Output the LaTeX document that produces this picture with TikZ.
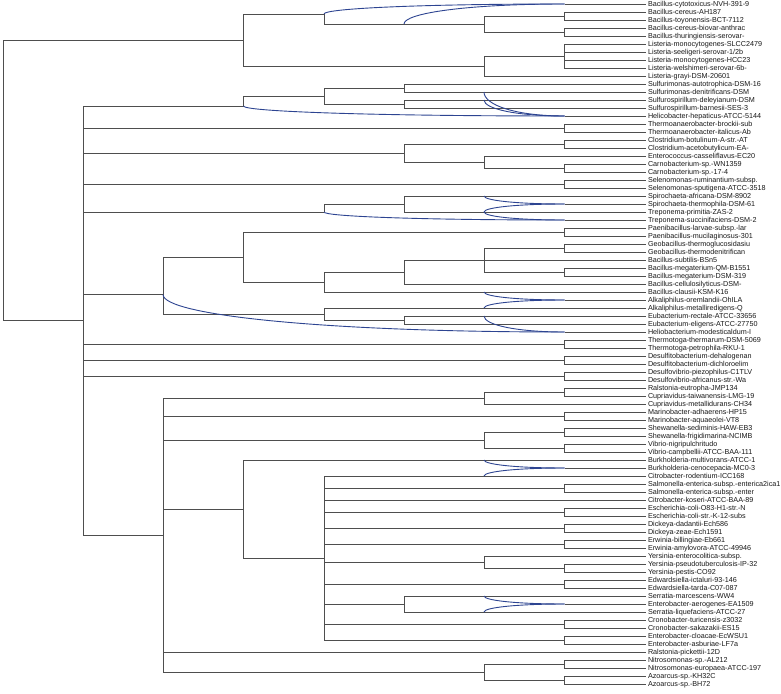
\documentclass[tikz,border=0pt]{standalone}
\usepackage{fontspec}
\setmainfont{Liberation Sans}
\usetikzlibrary{calc}
\definecolor{treec}{RGB}{78,78,78}
\definecolor{retc}{RGB}{45,68,145}
\definecolor{labc}{RGB}{25,25,25}
\newcommand\leafnode[2]{\coordinate (t#1) at (646,{8*#1-4}); \node[lab] (l#1) at (t#1) {#2};}
\newcommand\reti[2]{\draw[retic] (#1) .. controls ($(#1)!0.55!(#1 |- #2)$) and ($(#2 -| #1)!0.4!(#2)$) .. (#2);}
\begin{document}
\begin{tikzpicture}[x=1pt,y=-1pt,
  edge/.style={draw=treec,line width=0.9pt},
  retic/.style={draw=retc,line width=0.9pt},
  lab/.style={anchor=base west,inner sep=0pt,xshift=1.8pt,yshift=-2.9pt,text=labc,font=\fontsize{7.2}{8}\selectfont}]
\path[use as bounding box,fill=white] (0,0) rectangle (781,693);

% leaves and labels
\leafnode{1}{Bacillus-cytotoxicus-NVH-391-9}
\leafnode{2}{Bacillus-cereus-AH187}
\leafnode{3}{Bacillus-toyonensis-BCT-7112}
\leafnode{4}{Bacillus-cereus-biovar-anthrac}
\leafnode{5}{Bacillus-thuringiensis-serovar-}
\leafnode{6}{Listeria-monocytogenes-SLCC2479}
\leafnode{7}{Listeria-seeligeri-serovar-1/2b}
\leafnode{8}{Listeria-monocytogenes-HCC23}
\leafnode{9}{Listeria-welshimeri-serovar-6b-}
\leafnode{10}{Listeria-grayi-DSM-20601}
\leafnode{11}{Sulfurimonas-autotrophica-DSM-16}
\leafnode{12}{Sulfurimonas-denitrificans-DSM}
\leafnode{13}{Sulfurospirillum-deleyianum-DSM}
\leafnode{14}{Sulfurospirillum-barnesii-SES-3}
\leafnode{15}{Helicobacter-hepaticus-ATCC-5144}
\leafnode{16}{Thermoanaerobacter-brockii-sub}
\leafnode{17}{Thermoanaerobacter-italicus-Ab}
\leafnode{18}{Clostridium-botulinum-A-str.-AT}
\leafnode{19}{Clostridium-acetobutylicum-EA-}
\leafnode{20}{Enterococcus-casseliflavus-EC20}
\leafnode{21}{Carnobacterium-sp.-WN1359}
\leafnode{22}{Carnobacterium-sp.-17-4}
\leafnode{23}{Selenomonas-ruminantium-subsp.}
\leafnode{24}{Selenomonas-sputigena-ATCC-3518}
\leafnode{25}{Spirochaeta-africana-DSM-8902}
\leafnode{26}{Spirochaeta-thermophila-DSM-61}
\leafnode{27}{Treponema-primitia-ZAS-2}
\leafnode{28}{Treponema-succinifaciens-DSM-2}
\leafnode{29}{Paenibacillus-larvae-subsp.-lar}
\leafnode{30}{Paenibacillus-mucilaginosus-301}
\leafnode{31}{Geobacillus-thermoglucosidasiu}
\leafnode{32}{Geobacillus-thermodenitrifican}
\leafnode{33}{Bacillus-subtilis-BSn5}
\leafnode{34}{Bacillus-megaterium-QM-B1551}
\leafnode{35}{Bacillus-megaterium-DSM-319}
\leafnode{36}{Bacillus-cellulosilyticus-DSM-}
\leafnode{37}{Bacillus-clausii-KSM-K16}
\leafnode{38}{Alkaliphilus-oremlandii-OhILA}
\leafnode{39}{Alkaliphilus-metalliredigens-Q}
\leafnode{40}{Eubacterium-rectale-ATCC-33656}
\leafnode{41}{Eubacterium-eligens-ATCC-27750}
\leafnode{42}{Heliobacterium-modesticaldum-I}
\leafnode{43}{Thermotoga-thermarum-DSM-5069}
\leafnode{44}{Thermotoga-petrophila-RKU-1}
\leafnode{45}{Desulfitobacterium-dehalogenan}
\leafnode{46}{Desulfitobacterium-dichloroelim}
\leafnode{47}{Desulfovibrio-piezophilus-C1TLV}
\leafnode{48}{Desulfovibrio-africanus-str.-Wa}
\leafnode{49}{Ralstonia-eutropha-JMP134}
\leafnode{50}{Cupriavidus-taiwanensis-LMG-19}
\leafnode{51}{Cupriavidus-metallidurans-CH34}
\leafnode{52}{Marinobacter-adhaerens-HP15}
\leafnode{53}{Marinobacter-aquaeolei-VT8}
\leafnode{54}{Shewanella-sediminis-HAW-EB3}
\leafnode{55}{Shewanella-frigidimarina-NCIMB}
\leafnode{56}{Vibrio-nigripulchritudo}
\leafnode{57}{Vibrio-campbellii-ATCC-BAA-111}
\leafnode{58}{Burkholderia-multivorans-ATCC-1}
\leafnode{59}{Burkholderia-cenocepacia-MC0-3}
\leafnode{60}{Citrobacter-rodentium-ICC168}
\leafnode{61}{Salmonella-enterica-subsp.-enterica2ica1}
\leafnode{62}{Salmonella-enterica-subsp.-enter}
\leafnode{63}{Citrobacter-koseri-ATCC-BAA-89}
\leafnode{64}{Escherichia-coli-O83-H1-str.-N}
\leafnode{65}{Escherichia-coli-str.-K-12-subs}
\leafnode{66}{Dickeya-dadantii-Ech586}
\leafnode{67}{Dickeya-zeae-Ech1591}
\leafnode{68}{Erwinia-billingiae-Eb661}
\leafnode{69}{Erwinia-amylovora-ATCC-49946}
\leafnode{70}{Yersinia-enterocolitica-subsp.}
\leafnode{71}{Yersinia-pseudotuberculosis-IP-32}
\leafnode{72}{Yersinia-pestis-CO92}
\leafnode{73}{Edwardsiella-ictaluri-93-146}
\leafnode{74}{Edwardsiella-tarda-C07-087}
\leafnode{75}{Serratia-marcescens-WW4}
\leafnode{76}{Enterobacter-aerogenes-EA1509}
\leafnode{77}{Serratia-liquefaciens-ATCC-27}
\leafnode{78}{Cronobacter-turicensis-z3032}
\leafnode{79}{Cronobacter-sakazakii-ES15}
\leafnode{80}{Enterobacter-cloacae-EcWSU1}
\leafnode{81}{Enterobacter-asburiae-LF7a}
\leafnode{82}{Ralstonia-pickettii-12D}
\leafnode{83}{Nitrosomonas-sp.-AL212}
\leafnode{84}{Nitrosomonas-europaea-ATCC-197}
\leafnode{85}{Azoarcus-sp.-KH32C}
\leafnode{86}{Azoarcus-sp.-BH72}

% internal nodes
\coordinate (R) at (3,180.25);
\coordinate (T) at (243.5,40);
\coordinate (A) at (324,14);
\coordinate (N3) at (484,24);
\coordinate (C23) at (564.5,16);
\coordinate (C45) at (564.5,32);
\coordinate (B) at (484,66);
\coordinate (C69) at (564.5,56);
\coordinate (L1) at (83,320.5);
\coordinate (Ha) at (243.5,106);
\coordinate (Hb) at (324,96);
\coordinate (H1) at (404,88);
\coordinate (H2) at (404,104);
\coordinate (C1617) at (564.5,128);
\coordinate (Cl) at (404,153);
\coordinate (C1819) at (564.5,144);
\coordinate (Ca) at (484,162);
\coordinate (C2122) at (564.5,168);
\coordinate (C2324) at (564.5,184);
\coordinate (Sp) at (324,212);
\coordinate (Sp5) at (404,204);
\coordinate (F2) at (163,294.5);
\coordinate (F3) at (243.5,257);
\coordinate (C2930) at (564.5,232);
\coordinate (F4) at (324,282);
\coordinate (F5) at (404,272);
\coordinate (F6) at (484,260);
\coordinate (C3132) at (564.5,248);
\coordinate (C3435) at (564.5,272);
\coordinate (F4b) at (324,314);
\coordinate (F5b) at (404,320);
\coordinate (C4344) at (564.5,344);
\coordinate (C4546) at (564.5,360);
\coordinate (C4748) at (564.5,376);
\coordinate (P2) at (163,535);
\coordinate (Pa) at (484,398);
\coordinate (C4950) at (564.5,392);
\coordinate (C5253) at (564.5,416);
\coordinate (Pb) at (484,440);
\coordinate (C5455) at (564.5,432);
\coordinate (C5657) at (564.5,448);
\coordinate (P3) at (243.5,509);
\coordinate (P4) at (324,558);
\coordinate (C6162) at (564.5,488);
\coordinate (C6465) at (564.5,512);
\coordinate (C6667) at (564.5,528);
\coordinate (C6869) at (564.5,544);
\coordinate (Py) at (484,562);
\coordinate (C7172) at (564.5,568);
\coordinate (C7374) at (564.5,584);
\coordinate (Ps) at (404,604);
\coordinate (C7879) at (564.5,624);
\coordinate (C8081) at (564.5,640);
\coordinate (Pn) at (484,672);
\coordinate (C8384) at (564.5,664);
\coordinate (C8586) at (564.5,680);

% reticulation nodes and sources
\coordinate (r1) at (564.5,4);
\coordinate (r15) at (564.5,116);
\coordinate (r26) at (564.5,204);
\coordinate (r28) at (564.5,220);
\coordinate (r38) at (564.5,300);
\coordinate (r42) at (564.5,332);
\coordinate (r59) at (564.5,468);
\coordinate (r76) at (564.5,604);
\coordinate (s1) at (404,24);
\coordinate (s12) at (484,92);
\coordinate (s13) at (484,100);
\coordinate (s25) at (484,196);
\coordinate (s27) at (484,212);
\coordinate (s37) at (484,292);
\coordinate (s39) at (484,308);
\coordinate (s40) at (484,316);
\coordinate (s58) at (484,460);
\coordinate (s60) at (484,476);
\coordinate (s75) at (484,596);
\coordinate (s77) at (484,612);

% tree edges
\draw[edge] (R) |- (T) (R) |- (L1);
\draw[edge] (T) |- (A) (T) |- (B);
\draw[edge] (A) |- (N3);
\draw[edge] (N3) |- (C23) (N3) |- (C45);
\draw[edge] (C23) |- (t2) (C23) |- (t3) (C45) |- (t4) (C45) |- (t5);
\draw[edge] (B) |- (C69) (B) |- (t10);
\draw[edge] (C69) |- (t6) (C69) |- (t7) (C69) |- (t8) (C69) |- (t9);
\draw[edge] (L1) |- (Ha) (L1) |- (C1617) (L1) |- (Cl) (L1) |- (C2324) (L1) |- (Sp)
  (L1) |- (F2) (L1) |- (C4344) (L1) |- (C4546) (L1) |- (C4748) (L1) |- (P2);
\draw[edge] (Ha) |- (Hb);
\draw[edge] (Hb) |- (H1) (Hb) |- (H2);
\draw[edge] (H1) |- (t11) (H1) |- (t12) (H2) |- (t13) (H2) |- (t14);
\draw[edge] (C1617) |- (t16) (C1617) |- (t17);
\draw[edge] (Cl) |- (C1819) (Cl) |- (Ca);
\draw[edge] (C1819) |- (t18) (C1819) |- (t19);
\draw[edge] (Ca) |- (t20) (Ca) |- (C2122);
\draw[edge] (C2122) |- (t21) (C2122) |- (t22);
\draw[edge] (C2324) |- (t23) (C2324) |- (t24);
\draw[edge] (Sp) |- (Sp5);
\draw[edge] (Sp5) |- (t25) (Sp5) |- (t27);
\draw[edge] (F2) |- (F3) (F2) |- (F4b);
\draw[edge] (F3) |- (C2930) (F3) |- (F4);
\draw[edge] (C2930) |- (t29) (C2930) |- (t30);
\draw[edge] (F4) |- (F5) (F4) |- (t37);
\draw[edge] (F5) |- (F6) (F5) |- (t36);
\draw[edge] (F6) |- (C3132) (F6) |- (t33) (F6) |- (C3435);
\draw[edge] (C3132) |- (t31) (C3132) |- (t32) (C3435) |- (t34) (C3435) |- (t35);
\draw[edge] (F4b) |- (t39) (F4b) |- (F5b);
\draw[edge] (F5b) |- (t40) (F5b) |- (t41);
\draw[edge] (C4344) |- (t43) (C4344) |- (t44);
\draw[edge] (C4546) |- (t45) (C4546) |- (t46);
\draw[edge] (C4748) |- (t47) (C4748) |- (t48);
\draw[edge] (P2) |- (Pa) (P2) |- (C5253) (P2) |- (Pb) (P2) |- (P3) (P2) |- (t82) (P2) |- (Pn);
\draw[edge] (Pa) |- (C4950) (Pa) |- (t51);
\draw[edge] (C4950) |- (t49) (C4950) |- (t50);
\draw[edge] (C5253) |- (t52) (C5253) |- (t53);
\draw[edge] (Pb) |- (C5455) (Pb) |- (C5657);
\draw[edge] (C5455) |- (t54) (C5455) |- (t55) (C5657) |- (t56) (C5657) |- (t57);
\draw[edge] (P3) |- (t58) (P3) |- (P4);
\draw[edge] (P4) |- (t60) (P4) |- (C6162) (P4) |- (t63) (P4) |- (C6465) (P4) |- (C6667)
  (P4) |- (C6869) (P4) |- (Py) (P4) |- (C7374) (P4) |- (Ps) (P4) |- (C7879) (P4) |- (C8081);
\draw[edge] (C6162) |- (t61) (C6162) |- (t62);
\draw[edge] (C6465) |- (t64) (C6465) |- (t65);
\draw[edge] (C6667) |- (t66) (C6667) |- (t67);
\draw[edge] (C6869) |- (t68) (C6869) |- (t69);
\draw[edge] (Py) |- (t70) (Py) |- (C7172);
\draw[edge] (C7172) |- (t71) (C7172) |- (t72);
\draw[edge] (C7374) |- (t73) (C7374) |- (t74);
\draw[edge] (Ps) |- (t75) (Ps) |- (t77);
\draw[edge] (C7879) |- (t78) (C7879) |- (t79);
\draw[edge] (C8081) |- (t80) (C8081) |- (t81);
\draw[edge] (Pn) |- (C8384) (Pn) |- (C8586);
\draw[edge] (C8384) |- (t83) (C8384) |- (t84) (C8586) |- (t85) (C8586) |- (t86);

% reticulate edges
\reti{A}{r1}
\reti{s1}{r1}
\reti{Ha}{r15}
\reti{s12}{r15}
\reti{s13}{r15}
\reti{s25}{r26}
\reti{s27}{r26}
\reti{Sp}{r28}
\reti{s27}{r28}
\reti{s37}{r38}
\reti{s39}{r38}
\reti{F2}{r42}
\reti{s40}{r42}
\reti{s58}{r59}
\reti{s60}{r59}
\reti{s75}{r76}
\reti{s77}{r76}

% edges from reticulation nodes to leaves
\draw[edge] (r1) -- (t1) (r15) -- (t15) (r26) -- (t26) (r28) -- (t28)
  (r38) -- (t38) (r42) -- (t42) (r59) -- (t59) (r76) -- (t76);
\end{tikzpicture}
\end{document}
